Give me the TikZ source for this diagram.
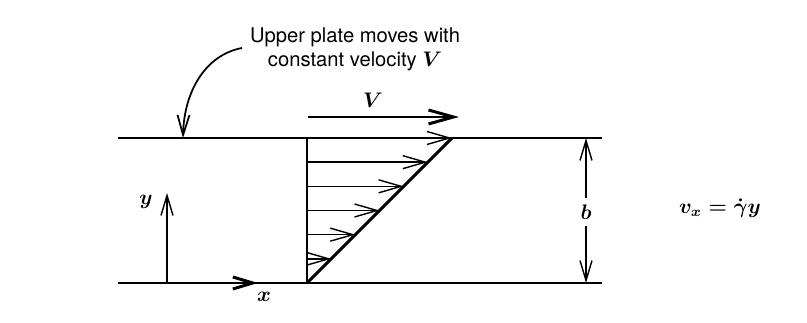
\documentclass[tikz,border=0pt]{standalone}
\usepackage{fontspec}
\newfontfamily\labelfont{TeX Gyre Heros}
\usepackage{amsmath}
\usetikzlibrary{arrows.meta, positioning, calc}

\begin{document}
\begin{tikzpicture}[
		x=0.02cm, y=-0.02cm,
		every node/.style={font=\large\boldmath},
		plate/.style={line width=1.7pt},
		velarrow/.style={-{Straight Barb[length=4.5mm, width=2.6mm]}, line width=0.8pt},
		thinarrow/.style={-{Straight Barb[length=4mm, width=2.4mm]}, line width=0.8pt},
		note/.style={font=\labelfont\fontsize{11.5}{13.8}\selectfont, align=center}
	]
	\useasboundingbox (0,0) rectangle (807,323);
	% plates
	\coordinate (tl) at (118,138);
	\coordinate (tr) at (602,138);
	\coordinate (bl) at (118,283);
	\coordinate (br) at (602,283);
	\draw[plate] (tl) -- (tr);
	\draw[plate] (bl) -- (br);

	% velocity profile
	\coordinate (orig) at (307,283);
	\coordinate (top) at (307,138);
	\coordinate (tip) at (452,138);
	\draw[line width=0.8pt] (orig) -- (top);
	\draw[plate] (orig) -- (tip);
	\foreach \k in {1,...,6}
		\draw[velarrow] (307,283-145*\k/6) -- (307+145*\k/6,283-145*\k/6);

	% moving plate
	\node[note] (upper) at (355,49) {Upper plate moves with\\constant velocity {\large\boldmath$V$}};
	\coordinate (hit) at (183,138);
	\draw[thinarrow, line width=1pt] (242,48) .. controls (205,55) and (184,92) .. (hit);
	\coordinate (vs) at (308,117);
	\coordinate (ve) at (459,117);
	\draw[-{Straight Barb[length=5mm, width=2.8mm]}, plate] (vs) -- (ve)
		node[pos=0.43, above=1pt] (vlab) {$V$};

	% axes
	\coordinate (ybase) at (167,283);
	\coordinate (ytip) at (167,193);
	\draw[thinarrow] (ybase) -- (ytip);
	\node (ylab) at (146,202) {$y$};
	\coordinate (xtip) at (258,283);
	\draw[thinarrow, plate] (bl) -- (xtip);
	\node (xlab) at (264,297) {$x$};

	% gap b
	\node (blab) at (586,212) {$b$};
	\draw[thinarrow] (blab) -- (586,138);
	\draw[thinarrow] (blab) -- (586,283);

	% shear flow
	\node (eqn) at (720,208) {$v_x = \dot{\gamma}y$};
\end{tikzpicture}
\end{document}
